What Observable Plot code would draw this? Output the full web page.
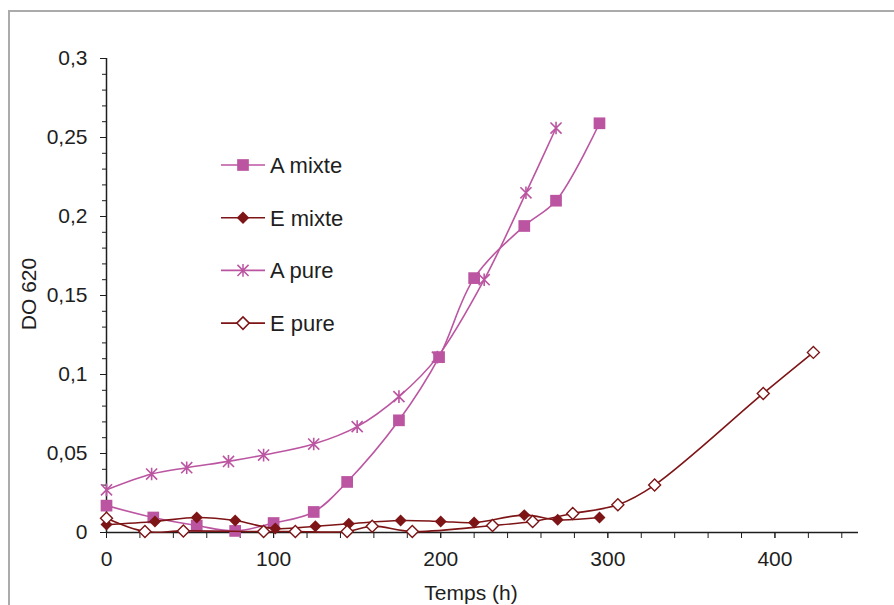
<!DOCTYPE html>
<html>
<head>
<meta charset="utf-8">
<script src="https://cdn.jsdelivr.net/npm/d3@7"></script>
<script src="https://cdn.jsdelivr.net/npm/@observablehq/plot@0.6"></script>
<style>
  body { margin: 0; background: #fff; }
  #wrap { position: relative; width: 894px; height: 605px; overflow: hidden; }
  #frame { position: absolute; left: 8px; top: 10px; right: -10px; bottom: -10px; border-left: 2px solid #ababab; border-top: 2px solid #ababab; pointer-events: none; }
  #chart { position: absolute; left: 0; top: 0; }
</style>
</head>
<body>
<div id="wrap"><div id="chart"></div><div id="frame"></div></div>
<script>
// ---- data ----
const seriesNames = ["A mixte", "E mixte", "A pure", "E pure"];

const tAmixte = [0, 28, 54, 77, 100, 124, 144, 175, 199, 220, 250, 269, 295];
const doAmixte = [0.017, 0.0095, 0.0044, 0.001, 0.006, 0.013, 0.032, 0.071, 0.111, 0.161, 0.194, 0.21, 0.259];

const tEmixte = [0, 29, 54, 77, 101, 125, 145, 176, 200, 220, 250, 270, 295];
const doEmixte = [0.005, 0.007, 0.0095, 0.0076, 0.0025, 0.004, 0.0055, 0.0076, 0.007, 0.0063, 0.011, 0.008, 0.0095];

const tApure = [0, 27, 48, 73, 94, 124, 150, 175, 198, 226, 251, 269];
const doApure = [0.027, 0.037, 0.041, 0.045, 0.049, 0.056, 0.067, 0.086, 0.111, 0.16, 0.215, 0.256];

const tEpure = [0, 23, 46, 94, 113, 144, 159, 183, 231, 255, 279, 306, 328, 393, 423];
const doEpure = [0.009, 0.0006, 0.001, 0.0006, 0.0006, 0.0006, 0.004, 0.0006, 0.0044, 0.007, 0.012, 0.0175, 0.030, 0.088, 0.114];

const xMajorTicks = [0, 100, 200, 300, 400];
const xMinorTicks = d3.range(0, 451, 20);
const yMajorTicks = [0, 0.05, 0.1, 0.15, 0.2, 0.25, 0.3];
const yMinorTicks = d3.range(0, 31).map(i => i / 100);

// ---- style ----
const colA = "#bb55a1";
const colE = "#7d1416";
const txt = "#1e1e1e";
const font = "'Liberation Sans', Arial, sans-serif";
const fs = 21;

const asterisk = {
  draw(ctx, size) {
    const r = Math.sqrt(size / Math.PI);
    const a = r * 0.88;
    ctx.moveTo(-a, -a); ctx.lineTo(a, a);
    ctx.moveTo(-a, a); ctx.lineTo(a, -a);
    ctx.moveTo(0, -r); ctx.lineTo(0, r);
  }
};

const toRows = (ts, vs) => ts.map((t, i) => ({t, v: vs[i]}));
const Am = toRows(tAmixte, doAmixte);
const Em = toRows(tEmixte, doEmixte);
const Ap = toRows(tApure, doApure);
const Ep = toRows(tEpure, doEpure);

const fmt = d => String(d).replace(".", ",");

const lineOpts = {x: "t", y: "v", curve: "catmull-rom", strokeWidth: 1.6};

const plot = Plot.plot({
  width: 894,
  height: 605,
  marginLeft: 106,
  marginRight: 36,
  marginTop: 58,
  marginBottom: 73,
  style: {fontFamily: font, fontSize: fs + "px", color: txt, background: "transparent", overflow: "visible"},
  x: {domain: [0, 450]},
  y: {domain: [0, 0.3]},
  marks: [
    Plot.axisY({ticks: yMinorTicks, tickSize: 4, tickFormat: () => "", label: null, stroke: txt}),
    Plot.axisY({ticks: yMajorTicks, tickSize: 6, tickPadding: 13, tickFormat: fmt, label: null, stroke: txt, fill: txt, fontSize: fs}),
    Plot.axisX({ticks: xMinorTicks, tickSize: 6, tickFormat: () => "", label: null, stroke: txt}),
    Plot.axisX({ticks: xMajorTicks, tickSize: 6, tickPadding: 13, tickFormat: d => String(d), label: null, stroke: txt, fill: txt, fontSize: fs}),
    Plot.ruleX([0], {stroke: txt, strokeWidth: 1.5}),
    Plot.ruleY([0], {stroke: txt, strokeWidth: 1.5}),

    Plot.line(Am, {...lineOpts, stroke: colA}),
    Plot.dot(Am, {x: "t", y: "v", symbol: "square", r: 6.6, fill: colA, stroke: "none"}),

    Plot.line(Em, {...lineOpts, stroke: colE}),
    Plot.dot(Em, {x: "t", y: "v", symbol: "diamond2", r: 5.4, fill: colE, stroke: "none"}),

    Plot.line(Ap, {...lineOpts, stroke: colA}),
    Plot.dot(Ap, {x: "t", y: "v", symbol: asterisk, r: 6.3, fill: "none", stroke: colA, strokeWidth: 1.6}),

    Plot.line(Ep, {...lineOpts, stroke: colE}),
    Plot.dot(Ep, {x: "t", y: "v", symbol: "diamond2", r: 5.4, fill: "white", stroke: colE, strokeWidth: 1.4})
  ]
});

document.getElementById("chart").appendChild(plot);

// ---- axis titles and legend (layout elements) ----
const svg = d3.select(plot);
svg.append("text")
  .attr("transform", "translate(36,294) rotate(-90)")
  .attr("text-anchor", "middle")
  .attr("font-family", font).attr("font-size", fs).attr("fill", txt)
  .text("DO 620");
svg.append("text")
  .attr("x", 471).attr("y", 600)
  .attr("text-anchor", "middle")
  .attr("font-family", font).attr("font-size", fs).attr("fill", txt)
  .text("Temps (h)");

const legendItems = [
  {name: seriesNames[0], color: colA, sym: d3.symbolSquare, size: Math.PI * 6.6 * 6.6, fill: colA, stroke: "none"},
  {name: seriesNames[1], color: colE, sym: d3.symbolDiamond2, size: Math.PI * 5.6 * 5.6, fill: colE, stroke: "none"},
  {name: seriesNames[2], color: colA, sym: asterisk, size: Math.PI * 6.3 * 6.3, fill: "none", stroke: colA},
  {name: seriesNames[3], color: colE, sym: d3.symbolDiamond2, size: Math.PI * 5.6 * 5.6, fill: "white", stroke: colE}
];
const lg = svg.append("g");
legendItems.forEach((it, i) => {
  const y = 165 + i * 52.7;
  lg.append("line").attr("x1", 221).attr("x2", 265).attr("y1", y).attr("y2", y)
    .attr("stroke", it.color).attr("stroke-width", 1.6);
  lg.append("path").attr("transform", `translate(243,${y})`)
    .attr("d", d3.symbol(it.sym, it.size)())
    .attr("fill", it.fill).attr("stroke", it.stroke).attr("stroke-width", 1.5);
  lg.append("text").attr("x", 270).attr("y", y).attr("dy", "0.36em")
    .attr("text-anchor", "start")
    .attr("font-family", font).attr("font-size", 22).attr("fill", txt)
    .text(it.name);
});
</script>
</body>
</html>
